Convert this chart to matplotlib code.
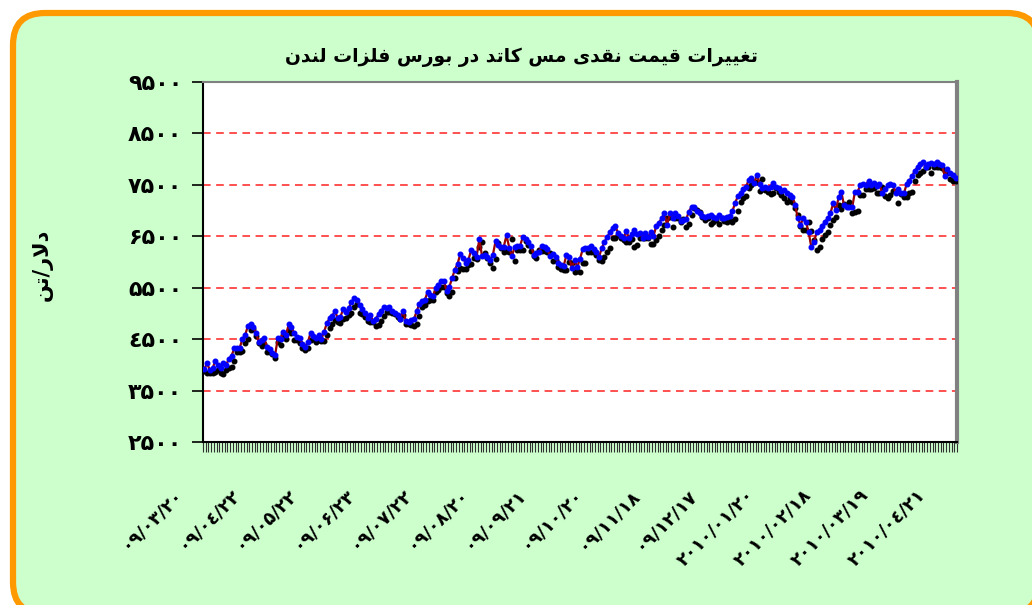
import matplotlib
matplotlib.use("Agg")
import matplotlib.pyplot as plt
from matplotlib.patches import FancyBboxPatch
import numpy as np

# ---------------- data ----------------
title_text = "تغییرات قیمت نقدی مس کاتد در بورس فلزات لندن"
ylabel_text = "دلار/تن"

x_labels = ["09/03/20", "09/04/22", "09/05/22", "09/06/23", "09/07/22", "09/08/20",
            "09/09/21", "09/10/20", "09/11/18", "09/12/17", "2010/01/20", "2010/02/18",
            "2010/03/19", "2010/04/21"]
label_step = 21

y_ticks = [2500, 3500, 4500, 5500, 6500, 7500, 8500, 9500]

# cash price (blue markers, dark red line)
cash_price = [
    3920, 4030, 3900, 3930, 4075, 4000, 3930, 4030, 4000, 4115,
    4180, 4320, 4335, 4335, 4505, 4580, 4760, 4800, 4740, 4615,
    4440, 4485, 4515, 4355, 4310, 4225, 4190, 4530, 4505, 4645,
    4580, 4790, 4740, 4615, 4550, 4530, 4400, 4355, 4440, 4615,
    4570, 4530, 4580, 4505, 4645, 4810, 4905, 4955, 5045, 4905,
    4935, 5085, 5035, 5100,
    5215, 5300, 5255, 5170, 5080, 5000,
    4920, 4970, 4850, 4900, 4980, 5050, 5120, 5100, 5130, 5050,
    5000, 4960, 4900, 5050, 4860, 4840, 4870, 4890, 5040, 5190,
    5240, 5260, 5420, 5350, 5340, 5500, 5550, 5630, 5630, 5440,
    5520, 5680, 5850, 5960, 6150, 6080, 5980, 6040, 6230, 6170,
    6100, 6440, 6120, 6130, 6100, 6040, 6140, 6410, 6330, 6300, 6300,
    6520, 6280, 6110, 6300, 6320, 6316, 6490, 6450, 6380,
    6320, 6140, 6170, 6200, 6316, 6300, 6250, 6120, 6150, 6100,
    5990, 5950, 5927, 6130, 6100, 5890, 6040, 5900, 6060, 6250,
    6277, 6277, 6316, 6260, 6190, 6100, 6270, 6390, 6490, 6575,
    6666, 6700, 6560, 6500, 6470, 6600, 6470, 6540, 6620, 6537,
    6570, 6460, 6560, 6480,
    6590, 6500, 6700, 6760, 6850, 6945,
    6718, 6945, 6847, 6945, 6899, 6796, 6815, 6834, 6977, 7074,
    7074, 6990, 6945, 6900, 6880, 6890, 6912, 6870, 6860, 6912,
    6860, 6850, 6880, 6890, 6990, 7150, 7280, 7340, 7420, 7460,
    7600, 7625, 7540, 7690, 7520, 7431, 7464, 7444, 7464, 7528,
    7464, 7431, 7379, 7400, 7334, 7302, 7270, 7107, 6860,
    6720, 6848, 6783, 6580, 6284, 6394, 6588, 6621, 6698, 6783, 6848,
    6945, 7140, 7010, 7256, 7366, 7100, 7062, 7062, 7062, 7366,
    7366, 7496, 7515, 7496, 7580, 7496, 7541, 7477, 7515, 7334,
    7412, 7496, 7515, 7496, 7347, 7412, 7347, 7334, 7515, 7580,
    7671, 7775, 7840, 7905, 7950, 7840, 7905, 7918, 7905, 7950,
    7905, 7886, 7671, 7801, 7736, 7690, 7640,
]

# second series (black markers)
other_price = [
    3880, 3840, 3840, 3840, 3870, 3900, 3840, 3830, 3900, 3930,
    3950, 4070, 4250, 4250, 4260, 4420, 4510, 4680, 4690, 4560,
    4430, 4360, 4400, 4250, 4250, 4220, 4130, 4450, 4390, 4580,
    4500, 4680, 4620, 4490, 4480, 4420, 4330, 4290, 4320, 4490,
    4500, 4450, 4480, 4460, 4470, 4580, 4720, 4800, 4880, 4830,
    4810, 4900, 4920, 4970,
    5000, 5130, 5190, 5010, 4980, 4930,
    4850, 4840, 4840, 4760, 4770, 4860, 4950, 5020, 5020, 5000,
    4990, 4930, 4900, 4960, 4790, 4800, 4780, 4760, 4790, 4950,
    5130, 5160, 5250, 5260, 5270, 5420, 5450, 5520, 5520, 5400,
    5340, 5420, 5690, 5820, 5890, 5860, 5870, 5950, 5960, 6070,
    6060, 6300, 6380, 6180, 6070, 5980, 5890, 6050, 6370, 6270, 6200,
    6210, 6190, 6440, 6020, 6231, 6231, 6231, 6400, 6330,
    6210, 6120, 6070, 6231, 6220, 6212, 6190, 6167, 6020, 6037,
    5908, 5862, 5843, 5843, 6005, 5990, 5810, 5823, 5810, 5973,
    5973, 6187, 6187, 6187, 6135, 6037, 6018, 6102, 6200, 6277,
    6472, 6472, 6524, 6459, 6427, 6381, 6390, 6446, 6297, 6329,
    6472, 6472, 6470, 6472,
    6356, 6356, 6433, 6500, 6614, 6718,
    6860, 6880, 6685, 6847, 6860, 6770, 6834, 6685, 6731, 6912,
    7042, 7010, 6977, 6880, 6815, 6860, 6731, 6783, 6815, 6731,
    6847, 6800, 6783, 6815, 6770, 6834, 6990, 7159, 7237, 7289,
    7431, 7500, 7548, 7548, 7379, 7612, 7399, 7366, 7315, 7334,
    7431, 7353, 7302, 7250, 7172, 7237, 7172, 7055, 6912,
    6700, 6621, 6621, 6783, 6608, 6427, 6232, 6284, 6440, 6524, 6588,
    6718, 6815, 6880, 7107, 7023, 7127, 7088, 7172, 6958, 6977,
    6997, 7302, 7302, 7412, 7412, 7412, 7431, 7334, 7334, 7450,
    7282, 7237, 7302, 7386, 7366, 7153, 7321, 7269, 7269, 7347,
    7366, 7580, 7690, 7723, 7775, 7853, 7840, 7736, 7840, 7840,
    7840, 7820, 7775, 7736, 7606, 7580, 7580,
]

# ---------------- helpers ----------------
DIGITS = {"0": "\u06F0", "1": "\u06F1", "2": "\u06F2", "3": "\u06F3", "4": "\u0664",
          "5": "\u06F5", "6": "\u06F6", "7": "\u06F7", "8": "\u06F8", "9": "\u06F9"}


def fa_digits(s):
    return "".join(DIGITS.get(c, c) for c in str(s))


# contextual forms: (isolated, final, initial, medial)
FORMS = {
    "ا": ("\uFE8D", "\uFE8E", None, None),
    "ب": ("\uFE8F", "\uFE90", "\uFE91", "\uFE92"),
    "ت": ("\uFE95", "\uFE96", "\uFE97", "\uFE98"),
    "د": ("\uFEA9", "\uFEAA", None, None),
    "ر": ("\uFEAD", "\uFEAE", None, None),
    "ز": ("\uFEAF", "\uFEB0", None, None),
    "س": ("\uFEB1", "\uFEB2", "\uFEB3", "\uFEB4"),
    "غ": ("\uFECD", "\uFECE", "\uFECF", "\uFED0"),
    "ف": ("\uFED1", "\uFED2", "\uFED3", "\uFED4"),
    "ق": ("\uFED5", "\uFED6", "\uFED7", "\uFED8"),
    "ل": ("\uFEDD", "\uFEDE", "\uFEDF", "\uFEE0"),
    "م": ("\uFEE1", "\uFEE2", "\uFEE3", "\uFEE4"),
    "ن": ("\uFEE5", "\uFEE6", "\uFEE7", "\uFEE8"),
    "و": ("\uFEED", "\uFEEE", None, None),
    "ی": ("\uFBFC", "\uFBFD", "\uFBFE", "\uFBFF"),
    "ک": ("\uFB8E", "\uFB8F", "\uFB90", "\uFB91"),
}
DUAL = {k for k, v in FORMS.items() if v[2] is not None}


def shape_rtl(text):
    toks = []
    i = 0
    while i < len(text):
        if text[i] == "ل" and i + 1 < len(text) and text[i + 1] == "ا":
            toks.append("LA")
            i += 2
        else:
            toks.append(text[i])
            i += 1
    out = []
    for k, t in enumerate(toks):
        prev = toks[k - 1] if k > 0 else None
        nxt = toks[k + 1] if k + 1 < len(toks) else None
        conn_prev = prev in DUAL
        if t == "LA":
            out.append("\uFEFC" if conn_prev else "\uFEFB")
            continue
        if t not in FORMS:
            out.append(t)
            continue
        conn_next = t in DUAL and (nxt in FORMS or nxt == "LA")
        iso, fin, ini, med = FORMS[t]
        if conn_prev and conn_next:
            out.append(med)
        elif conn_prev:
            out.append(fin)
        elif conn_next:
            out.append(ini)
        else:
            out.append(iso)
    return "".join(reversed(out))


# ---------------- figure ----------------
plt.rcParams["font.family"] = ["DejaVu Sans"]
fig = plt.figure(figsize=(10.32, 6.05), dpi=100)
fig.patch.set_facecolor("white")

frame = FancyBboxPatch((0.13, -0.09), 10.26, 6.01,
                       boxstyle="round,pad=0,rounding_size=0.32",
                       transform=fig.dpi_scale_trans,
                       facecolor="#CCFFCC", edgecolor="#FF9900", linewidth=4.5,
                       zorder=0)
fig.add_artist(frame)

ax = fig.add_axes([203 / 1032, 1 - 442 / 605, 754 / 1032, 360 / 605])
ax.set_facecolor("white")

x = np.arange(len(cash_price))
ax.plot(x, other_price, linestyle="none", marker="o", ms=3.3,
        mfc="black", mec="black", zorder=3)
ax.plot(x, cash_price, linestyle="-", color="#990000", lw=1.6, marker="o", ms=3.3,
        mfc="#0000FF", mec="#0000FF", zorder=4)

ax.set_xlim(-0.5, len(x) - 0.5)
ax.set_ylim(y_ticks[0], y_ticks[-1])

for v in y_ticks[1:-1]:
    ax.axhline(v, color="#FF2020", lw=1.1, ls=(0, (5, 3.6)), zorder=1)

ax.set_yticks(y_ticks)
ax.set_yticklabels([fa_digits(v) for v in y_ticks], fontsize=16, fontweight="bold")
ax.tick_params(axis="y", length=8, width=1.2, pad=7, direction="out", color="black")

ax.set_xticks([])
ax.set_xticks(np.arange(len(x) + 1) - 0.5, minor=True)
ax.tick_params(axis="x", which="minor", length=7, width=0.8, color="#303030",
               labelbottom=False)

for side in ("left", "bottom"):
    ax.spines[side].set_color("black")
    ax.spines[side].set_linewidth(1.5)
ax.spines["top"].set_color("#808080")
ax.spines["top"].set_linewidth(1.5)
ax.spines["right"].set_color("#808080")
ax.spines["right"].set_linewidth(3)

for k, lab in enumerate(x_labels):
    ax.annotate(fa_digits(lab), xy=(k * label_step, 0),
                xycoords=("data", "axes fraction"),
                xytext=(-18, -36), textcoords="offset points",
                rotation=45, rotation_mode="anchor", ha="right", va="center",
                fontsize=13, fontweight="bold", annotation_clip=False)

fig.text(521 / 1032, 1 - 57 / 605, shape_rtl(title_text), ha="center", va="center",
         fontsize=13.5, fontweight="bold")
fig.text(42 / 1032, 1 - 265 / 605, shape_rtl(ylabel_text), ha="center", va="center",
         rotation=90, fontsize=15, fontweight="bold")

fig.savefig("out.png", dpi=100, facecolor="white")
